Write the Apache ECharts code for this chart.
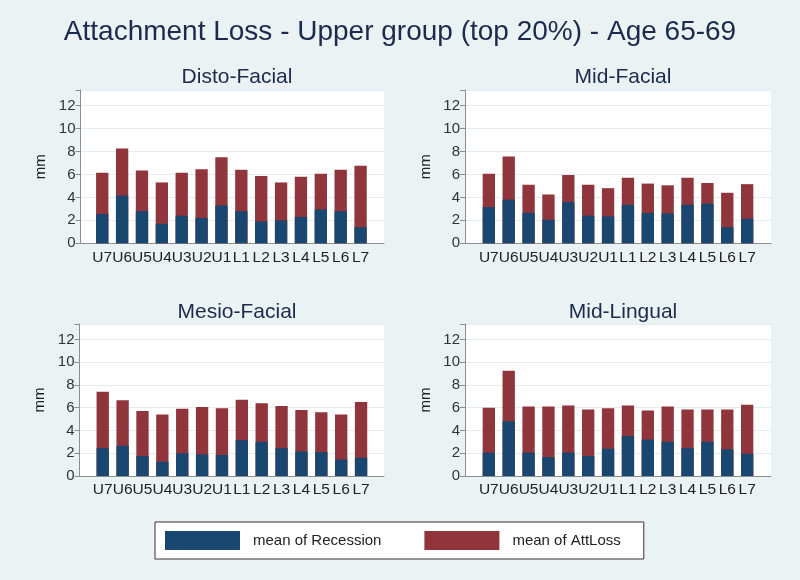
<!DOCTYPE html>
<html><head><meta charset="utf-8">
<script src="https://cdn.jsdelivr.net/npm/echarts@6/dist/echarts.min.js"></script>
<style>html,body{margin:0;padding:0;background:#eaf2f3}#c{width:800px;height:580px}</style>
</head><body><div id="c"></div><script>
const teeth = ['U7','U6','U5','U4','U3','U2','U1','L1','L2','L3','L4','L5','L6','L7'];
const yTicks = [0, 2, 4, 6, 8, 10, 12];
const distoFacialRecession = [2.55, 4.15, 2.8, 1.7, 2.4, 2.2, 3.3, 2.8, 1.9, 2.0, 2.3, 2.95, 2.8, 1.4];
const distoFacialAttLoss   = [6.15, 8.25, 6.35, 5.3, 6.15, 6.45, 7.5, 6.4, 5.85, 5.3, 5.8, 6.05, 6.4, 6.75];
const midFacialRecession   = [3.15, 3.8, 2.65, 2.05, 3.6, 2.4, 2.35, 3.35, 2.65, 2.6, 3.35, 3.45, 1.4, 2.15];
const midFacialAttLoss     = [6.05, 7.55, 5.1, 4.25, 5.95, 5.1, 4.8, 5.7, 5.2, 5.05, 5.7, 5.25, 4.4, 5.15];
const mesioFacialRecession = [2.45, 2.65, 1.75, 1.25, 2.0, 1.9, 1.85, 3.15, 3.0, 2.45, 2.15, 2.1, 1.45, 1.6];
const mesioFacialAttLoss   = [7.4, 6.65, 5.7, 5.4, 5.9, 6.05, 5.95, 6.7, 6.4, 6.15, 5.8, 5.6, 5.4, 6.5];
const midLingualRecession  = [2.05, 4.8, 2.05, 1.65, 2.05, 1.75, 2.4, 3.5, 3.2, 3.0, 2.45, 3.0, 2.35, 1.95];
const midLingualAttLoss    = [6.0, 9.25, 6.1, 6.1, 6.2, 5.85, 5.95, 6.2, 5.75, 6.1, 5.85, 5.85, 5.85, 6.25];

const FONT = '"Liberation Sans", Arial, sans-serif';
const BLUE = '#1a476f', RED = '#90353b', NAVY = '#1c2a4e';
const YMAX = 13.35;

const panels = [
  {name:'Disto-Facial', rec:distoFacialRecession, att:distoFacialAttLoss},
  {name:'Mid-Facial',   rec:midFacialRecession,   att:midFacialAttLoss},
  {name:'Mesio-Facial', rec:mesioFacialRecession, att:mesioFacialAttLoss},
  {name:'Mid-Lingual',  rec:midLingualRecession,  att:midLingualAttLoss}
];
// layout: [bgLeft, top, bgWidth, height, barLeft, titleCenterX, titleTop]
const layout = [
  [80.5, 90, 303.5, 153.3, 92.3, 232, 62],
  [465, 90, 306, 153.3, 478.9, 618, 62],
  [79.5, 324, 304.5, 152, 92.8, 232, 297],
  [465, 324, 306, 152, 478.9, 618, 297]
];
const BARW = 278.2;

const grid = [], xAxis = [], yAxis = [], series = [];
const title = [{
  text:'Attachment Loss - Upper group (top 20%) - Age 65-69', left:'center', top:13,
  textStyle:{fontFamily:FONT, fontSize:28, fontWeight:'normal', color:NAVY}
}];
panels.forEach((p, i) => {
  const L = layout[i];
  title.push({text:p.name, left:L[5], top:L[6], textAlign:'center',
    textStyle:{fontFamily:FONT, fontSize:21, fontWeight:'normal', color:NAVY}});
  grid.push({left:L[0], top:L[1], width:L[2], height:L[3], show:true, backgroundColor:'#fff', borderWidth:0});
  grid.push({left:L[4], top:L[1], width:BARW, height:L[3]});
  xAxis.push({type:'value', gridIndex:2*i, min:0, max:1, axisLabel:{show:false}, axisTick:{show:false},
    splitLine:{show:false}, axisLine:{show:true, lineStyle:{color:'#8a8f92', width:1}}});
  yAxis.push({type:'value', gridIndex:2*i, min:0, max:YMAX, interval:2, name:'mm', nameLocation:'middle', nameGap:32,
    nameTextStyle:{fontFamily:FONT, fontSize:15, color:'#222'},
    axisLine:{show:true, lineStyle:{color:'#8a8f92', width:1}},
    axisTick:{show:true, length:5, lineStyle:{color:'#8a8f92'}},
    axisLabel:{fontFamily:FONT, fontSize:15, color:'#333', margin:5,
      formatter:v => yTicks.indexOf(v) >= 0 ? String(v) : ''},
    splitLine:{show:true, lineStyle:{color:'#e4eef0', width:1}}});
  xAxis.push({type:'category', gridIndex:2*i+1, data:teeth, axisLine:{show:false}, axisTick:{show:false},
    axisLabel:{interval:0, fontFamily:FONT, fontSize:15.5, color:'#222', margin:6}});
  yAxis.push({type:'value', gridIndex:2*i+1, min:0, max:YMAX, show:false});
  series.push({type:'bar', name:'mean of AttLoss', xAxisIndex:2*i+1, yAxisIndex:2*i+1, data:p.att,
    barWidth:'62%', barGap:'-100%', itemStyle:{color:RED}, z:2});
  series.push({type:'bar', name:'mean of Recession', xAxisIndex:2*i+1, yAxisIndex:2*i+1, data:p.rec,
    barWidth:'62%', barGap:'-100%', itemStyle:{color:BLUE}, z:3});
});

const chart = echarts.init(document.getElementById('c'), null, {renderer:'canvas'});
chart.setOption({
  backgroundColor:'#eaf2f3',
  animation:false,
  title,
  grid, xAxis, yAxis, series,
  legend:{data:['mean of Recession','mean of AttLoss'], left:155, top:522, orient:'horizontal',
    icon:'rect', itemWidth:75, itemHeight:19, itemGap:43, padding:[9,23,9,10],
    borderColor:'#333', borderWidth:1, backgroundColor:'#fff', selectedMode:false,
    textStyle:{fontFamily:FONT, fontSize:15, color:'#222', padding:[0,0,0,8]}}
});
</script></body></html>
